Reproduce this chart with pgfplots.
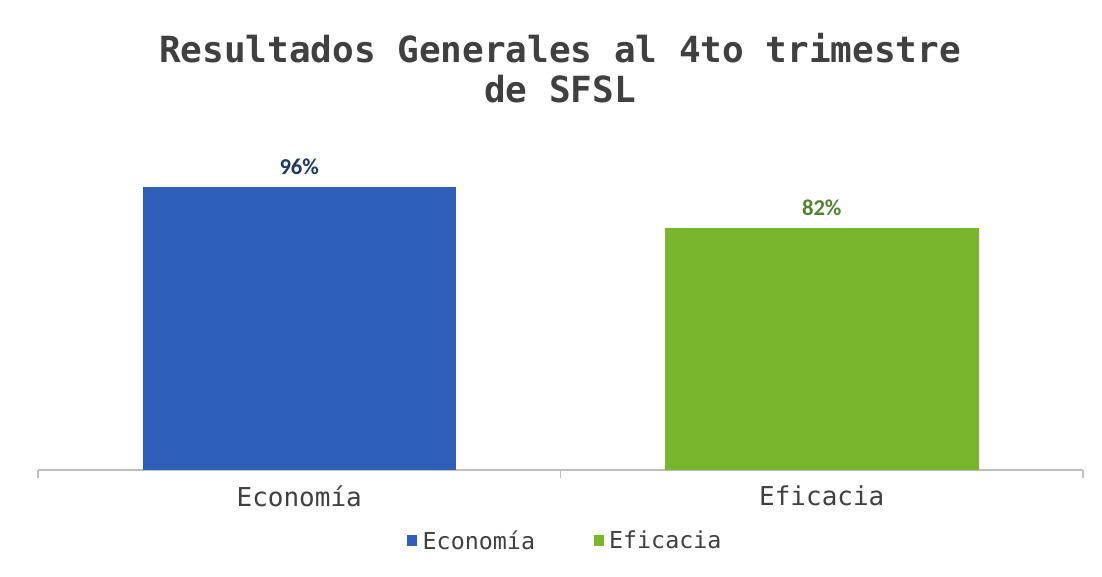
\documentclass[border=0pt]{standalone}
\usepackage{pgfplots}
\pgfplotsset{compat=1.18}
\usepackage{fontspec}
\setmainfont{DejaVu Sans Mono}
\newfontfamily\mono{DejaVu Sans Mono}
\newfontfamily\calib{Carlito}
\definecolor{barblue}{HTML}{2F5DBA}
\definecolor{bargreen}{HTML}{79B62B}
\definecolor{lblblue}{HTML}{1F3864}
\definecolor{lblgreen}{HTML}{548235}
\definecolor{txtgray}{HTML}{404040}
\definecolor{axgray}{HTML}{BFBFBF}
\begin{document}
\begin{tikzpicture}
\useasboundingbox[fill=white] (0pt,0pt) rectangle (826.5pt,-432pt);
\node[font=\mono\bfseries\fontsize{27}{30}\selectfont, text=txtgray, anchor=base] at (420pt,-46.5pt) {Resultados Generales al 4to trimestre};
\node[font=\mono\bfseries\fontsize{27}{30}\selectfont, text=txtgray, anchor=base] at (420pt,-76.5pt) {de SFSL};
\begin{axis}[
  at={(28.5pt,-352.5pt)}, anchor=south west,
  scale only axis, width=783.75pt, height=265.3pt,
  xmin=-0.5, xmax=1.5, ymin=0, ymax=120,
  axis x line=bottom, axis y line=none,
  x axis line style={-, draw=axgray, line width=1.2pt},
  xtick={0,1}, xticklabels={Economía, Eficacia},
  minor xtick={-0.5,0.5,1.5},
  major tick length=0pt, minor tick length=6pt,
  tick align=outside,
  minor tick style={draw=axgray, line width=0.8pt},
  xticklabel style={font=\mono\fontsize{19.5}{22}\selectfont, text=txtgray, yshift=-8pt},
  ybar, bar width=0.6,
  legend style={at={(0.505,-0.2007)}, anchor=center, draw=none, fill=none,
    font=\mono\fontsize{17.5}{20}\selectfont, text=txtgray, legend columns=2,
    /tikz/every even column/.append style={column sep=42pt},
    /tikz/every odd column/.append style={column sep=2pt}},
  legend image code/.code={\fill[#1] (0pt,-4pt) rectangle (7.5pt,4.5pt);},
  nodes near coords={\pgfmathprintnumber[assume math mode=true]{\pgfplotspointmeta}\%},
  every node near coord/.append style={font=\calib\bfseries\fontsize{17}{20}\selectfont, yshift=6pt},
]
\addplot[fill=barblue, draw=none, bar shift=0pt, every node near coord/.append style={text=lblblue}] coordinates {(0,96)};
\addplot[fill=bargreen, draw=none, bar shift=0pt, every node near coord/.append style={text=lblgreen}] coordinates {(1,82)};
\legend{Economía, Eficacia}
\end{axis}
\end{tikzpicture}
\end{document}
